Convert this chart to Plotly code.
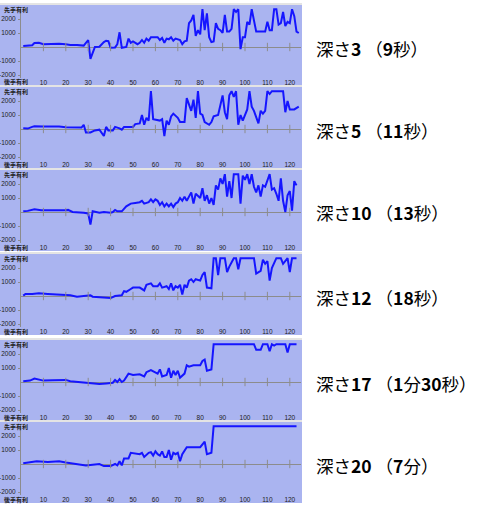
import plotly.graph_objects as go

# ---- data: evaluation (先手有利 +) by move number, per search depth ----
labels = ["深さ<b>3</b> （<b>9</b>秒）", "深さ<b>5</b> （<b>11</b>秒）", "深さ<b>10</b> （<b>13</b>秒）",
          "深さ<b>12</b> （<b>18</b>秒）", "深さ<b>17</b> （<b>1</b>分<b>30</b>秒）", "深さ<b>20</b> （<b>7</b>分）"]

d3_x = [1,3,5,6,8,10,13,15,17,20,22,25,28,30,31,33,35,37,38,39,40,42,43,44,45,47,48,49,50,52,53,54,55,56,57,58,60,61,62,63,64,65,66,67,68,69,71,72,73,74,75,76,77,78,79,80,81,82,83,84,85,86,87,88,89,90,91,92,93,94,95,96,97,98,99,100,101,102,103,104,105,109,110,111,112,113,114,115,116,117,118,119,120,121,122,123,124]
d3_y = [80,100,120,280,300,200,220,180,230,200,150,150,100,500,-850,0,20,350,450,420,-50,-30,200,1050,-60,0,600,300,400,200,300,500,300,600,450,700,720,700,500,650,300,600,550,700,450,600,500,200,400,450,1700,1900,2300,800,1200,900,2700,1200,2400,700,350,400,1700,1300,1200,1000,2300,1100,1100,1300,2700,2500,2700,-150,700,700,1800,1600,2700,2000,1100,1100,1800,1200,1200,2700,2700,1600,1700,2500,1500,1800,1700,2700,2200,1100,1000]

d5_x = [1,3,5,6,10,17,20,26,27,28,29,31,33,35,37,38,39,41,42,44,45,46,50,51,53,54,55,56,57,58,59,62,63,64,65,66,67,68,70,71,73,74,75,76,77,78,79,80,81,82,84,85,86,88,90,91,92,93,94,95,96,97,98,99,101,102,103,104,106,107,108,109,110,111,112,117,118,119,120,122,124]
d5_y = [50,30,150,200,180,180,120,80,100,300,-250,-250,-100,-50,-500,150,-100,-100,150,50,-50,150,150,350,400,1000,300,800,600,2700,700,600,700,-500,600,300,900,1100,800,500,500,2200,1800,1300,2100,800,2700,1100,1000,500,300,500,900,1000,2400,1200,700,2400,2700,2300,2700,300,1000,600,1400,2700,1600,1300,400,1300,1100,1300,2700,2500,2700,2700,1200,2000,1400,1400,1600]

d10_x = [1,3,6,9,20,21,23,26,28,30,31,32,34,35,37,40,41,42,43,45,47,49,51,53,54,55,57,58,59,60,61,62,63,64,65,66,67,68,69,70,71,72,73,74,75,76,77,78,80,81,82,83,84,85,86,87,88,89,90,91,92,93,94,95,97,98,99,100,101,102,103,104,105,106,107,108,109,111,112,113,114,115,116,117,118,119,120,121,122,123]
d10_y = [50,80,200,130,130,150,0,0,-50,-100,-900,50,0,-50,0,-50,0,150,50,50,400,600,650,700,800,600,700,900,700,900,800,500,700,400,600,400,600,350,600,700,1000,800,1100,800,1100,1400,600,1300,1000,1700,800,1200,600,1000,500,1900,1600,2400,2000,2700,1100,2200,1000,2700,2700,600,2600,2300,2700,2000,2700,1800,1400,1900,1100,1900,1800,2700,1600,1700,1300,800,2400,800,0,1200,1500,100,2200,1900]

d12_x = [1,2,5,8,12,17,22,25,28,31,32,35,38,40,42,44,45,46,47,49,50,53,55,56,58,59,61,62,63,65,66,67,68,69,70,71,72,73,74,75,76,77,78,80,81,82,83,85,86,87,88,89,91,92,93,95,96,97,98,104,105,107,108,109,110,111,112,114,116,117,118,119,120,121,123]
d12_y = [30,150,150,200,150,100,50,-50,0,50,-50,-100,-150,-150,0,50,50,350,300,500,600,600,400,800,900,700,700,900,600,700,500,900,400,700,600,800,100,800,600,1100,1200,1000,1200,1100,1500,1700,600,550,2700,2700,1500,2700,2700,1700,2100,2700,2700,1900,2700,2700,1600,1800,2600,2300,2500,1100,2000,2700,2700,2300,2500,2700,1700,2700,2700]

d17_x = [1,4,6,8,10,14,20,22,25,28,29,33,35,38,41,42,43,44,45,46,47,48,50,53,55,56,58,60,61,62,63,65,66,67,68,69,70,71,73,74,75,77,80,81,82,83,85,86,104,105,107,108,110,111,112,113,114,118,119,120,123]
d17_y = [50,100,250,200,100,120,150,50,0,0,-50,-100,-150,-100,-50,150,0,200,0,100,400,600,500,550,400,700,850,700,600,900,400,500,1000,300,800,500,800,300,600,1200,1100,1200,1200,1500,1600,800,900,2700,2700,2300,2300,2700,2700,2200,2700,2600,2700,2700,2100,2700,2700]

d20_x = [1,4,7,12,16,17,20,23,26,29,32,35,37,40,42,43,44,45,46,48,49,52,53,54,55,57,58,59,60,61,62,63,64,65,66,67,68,69,70,71,72,74,77,80,82,83,85,86,123]
d20_y = [50,150,200,150,150,200,100,50,-50,-100,-50,0,-150,-150,0,-100,200,-100,400,400,800,700,700,800,500,800,850,600,900,700,600,900,500,500,1000,300,800,700,800,200,700,1200,1200,1200,1600,700,800,2700,2700]

series = [(d3_x, d3_y), (d5_x, d5_y), (d10_x, d10_y), (d12_x, d12_y), (d17_x, d17_y), (d20_x, d20_y)]
x_ticks = [10, 20, 30, 40, 50, 60, 70, 80, 90, 100, 110, 120]
y_ticks = [-2000, -1000, 1000, 2000]

# ---- layout geometry (pixels) ----
W, H = 480, 508
zero_px = [47, 129, 212, 296, 382, 464]
k = 0.014  # px per eval unit
YTOP, YBOT = 2850, -2200
PLOT_L, PLOT_R = 21, 301

BLUE = "#aab4f0"
LINE = "#1515ff"
GRAY = "#8c8c8c"
TXT = "#222222"
FONT = "Noto Sans CJK JP"

fig = go.Figure()
shapes = []
annotations = []

def fy(py):
    return 1 - py / H

for i, (xs, ys) in enumerate(series):
    n = i + 1
    Z = zero_px[i]
    top = Z - YTOP * k
    bot = Z - YBOT * k
    xa = "x" if n == 1 else f"x{n}"
    ya = "y" if n == 1 else f"y{n}"
    # panel background
    shapes.append(dict(type="rect", xref="paper", yref="paper", x0=0, x1=302 / W,
                       y0=fy(Z + 39), y1=fy(Z - 42), fillcolor=BLUE, line=dict(width=0), layer="below"))
    # separator strip above panel
    shapes.append(dict(type="rect", xref="paper", yref="paper", x0=0, x1=302 / W,
                       y0=fy(Z - 42), y1=fy(Z - 44), fillcolor="#e4e4e4", line=dict(width=0), layer="below"))
    fig.add_trace(go.Scatter(x=xs, y=ys, mode="lines", line=dict(color=LINE, width=2),
                             xaxis=xa, yaxis=ya, showlegend=False, hoverinfo="skip"))
    # tick marks on the zero axis
    fig.add_trace(go.Scatter(x=x_ticks, y=[0] * len(x_ticks), mode="markers",
                             marker=dict(symbol="line-ns-open", size=6, color=GRAY, line=dict(width=1, color=GRAY)),
                             xaxis=xa, yaxis=ya, showlegend=False, hoverinfo="skip"))
    xkey = "xaxis" if n == 1 else f"xaxis{n}"
    ykey = "yaxis" if n == 1 else f"yaxis{n}"
    fig.update_layout(**{
        xkey: dict(domain=[PLOT_L / W, PLOT_R / W], range=[0, 125], anchor=ya,
                   tickvals=x_ticks, ticks="", showgrid=False, zeroline=False, showline=False,
                   tickfont=dict(size=6.5, color=TXT, family="Liberation Sans"), ticklabelstandoff=0),
        ykey: dict(domain=[fy(bot), fy(top)], range=[YBOT, YTOP], anchor=xa,
                   tickvals=y_ticks, ticktext=[str(v) for v in y_ticks], ticks="outside", ticklen=2,
                   tickcolor=GRAY, showgrid=False, zeroline=True, zerolinecolor=GRAY, zerolinewidth=1,
                   showline=True, linecolor=GRAY, linewidth=1,
                   tickfont=dict(size=6.5, color=TXT, family="Liberation Sans"), ticklabelstandoff=1),
    })
    annotations.append(dict(xref="paper", yref="paper", x=2 / W, y=fy(Z - 37.5), xanchor="left", yanchor="middle",
                            text="<b>先手有利</b>", showarrow=False, font=dict(size=6, color=TXT, family=FONT)))
    annotations.append(dict(xref="paper", yref="paper", x=2 / W, y=fy(Z + 35), xanchor="left", yanchor="middle",
                            text="<b>後手有利</b>", showarrow=False, font=dict(size=6, color=TXT, family=FONT)))
    annotations.append(dict(xref="paper", yref="paper", x=314 / W, y=fy(Z + 1), xanchor="left", yanchor="middle",
                            text=labels[i], showarrow=False, font=dict(size=17.5, color="#000000", family=FONT)))

fig.update_layout(width=W, height=H, autosize=False, margin=dict(l=0, r=0, t=0, b=0),
                  paper_bgcolor="white", plot_bgcolor=BLUE, shapes=shapes, annotations=annotations)
fig.write_html("out.html")
